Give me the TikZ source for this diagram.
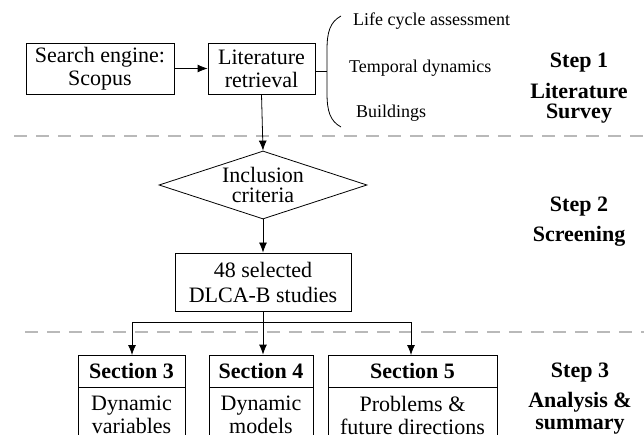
\documentclass[tikz,border=0pt]{standalone}
\usepackage{fontspec}
\setmainfont{Liberation Serif}
\usetikzlibrary{shapes.geometric,arrows.meta}

\begin{document}
\begin{tikzpicture}[x=1pt,y=-1pt]
                \tikzset{BoxStyle/.style= {draw, line width=0.8pt, inner sep=0pt, align=center,
                        font=\fontsize{22}{23}\selectfont}}
                \tikzset{HeadStyle/.style= {BoxStyle, font=\fontsize{22}{23}\selectfont\bfseries}}
                \tikzset{ItemStyle/.style= {anchor=west, inner sep=0pt, font=\fontsize{18}{20}\selectfont}}
                \tikzset{StepStyle/.style= {inner sep=0pt, align=center, font=\fontsize{22}{20}\selectfont\bfseries}}
                \tikzset{ArrowStyle/.style= {line width=0.8pt, -{Latex[length=10pt,width=8pt]}}}
                \tikzset{SepStyle/.style= {gray!55, line width=1.1pt, dash pattern=on 13pt off 9pt}}
                \useasboundingbox (0,0) rectangle (644,435);
                \clip (0,0) rectangle (644,435);
                % step 1
                \node[BoxStyle, minimum width=148pt, minimum height=51pt] (Search) at (100,68.5) {Search engine:\\Scopus};
                \node[BoxStyle, minimum width=107pt, minimum height=51pt] (Retrieval) at (261.5,68.5) {Literature\\retrieval};
                \coordinate (BraceMid) at (327,71.5);
                \node[ItemStyle] (Lca) at (353,21) {Life cycle assessment};
                \node[ItemStyle] (Temporal) at (349,68) {Temporal dynamics};
                \node[ItemStyle] (Buildings) at (356,113) {Buildings};
                \node[StepStyle] (Step1) at (579,63) {Step 1};
                \node[StepStyle] (Survey) at (579,103) {Literature\\Survey};
                % step 2
                \node[BoxStyle, shape=diamond, aspect=3.06, minimum width=208pt, minimum height=68pt,
                        font=\fontsize{22}{20}\selectfont] (Criteria) at (263,185) {Inclusion\\criteria};
                \node[BoxStyle, minimum width=176pt, minimum height=58pt,
                        font=\fontsize{22}{25}\selectfont] (Selected) at (263,282) {48 selected\\DLCA-B studies};
                \node[StepStyle] (Step2) at (579,207) {Step 2};
                \node[StepStyle] (Screening) at (579,236) {Screening};
                % step 3
                \node[HeadStyle, minimum width=107pt, minimum height=32pt] (Sec3) at (131.5,371) {Section 3};
                \node[HeadStyle, minimum width=104pt, minimum height=32pt] (Sec4) at (261,371) {Section 4};
                \node[HeadStyle, minimum width=169pt, minimum height=32pt] (Sec5) at (412.5,371) {Section 5};
                \node[BoxStyle, anchor=north, minimum width=107pt, minimum height=55pt] (Body3) at (Sec3.south) {Dynamic\\variables};
                \node[BoxStyle, anchor=north, minimum width=104pt, minimum height=55pt] (Body4) at (Sec4.south) {Dynamic\\models};
                \node[BoxStyle, anchor=north, minimum width=169pt, minimum height=55pt] (Body5) at (Sec5.south) {Problems \&\\future directions};
                \node[StepStyle] (Step3) at (580,373) {Step 3};
                \node[StepStyle, font=\fontsize{22}{22}\selectfont\bfseries] (Summary) at (580,413) {Analysis \&\\summary};
                % separators
                \coordinate (SepA) at (14,136);
                \coordinate (SepB) at (25,332);
                \draw[SepStyle] (SepA) -- (SepA -| 644,0);
                \draw[SepStyle] (SepB) -- (SepB -| 644,0);
                % connectors
                \draw[ArrowStyle] (Search) -- (Retrieval);
                \draw[line width=0.8pt] (Retrieval.east |- BraceMid) -- (BraceMid);
                \draw[line width=0.8pt] (341,16) .. controls (330,22) and (327,32) .. (327,50)
                        -- (327,93) .. controls (327,111) and (330,121) .. (341,127);
                \draw[ArrowStyle] (Retrieval.south) -- (Criteria.north);
                \draw[ArrowStyle] (Criteria.south) -- (Selected.north);
                \coordinate (Branch) at (263,322);
                \draw[ArrowStyle] (Selected.south) -- (Selected.south |- Sec4.north);
                \draw[ArrowStyle] (Branch) -| (132,355);
                \draw[ArrowStyle] (Branch) -| (411,355);

            \end{tikzpicture}
\end{document}
